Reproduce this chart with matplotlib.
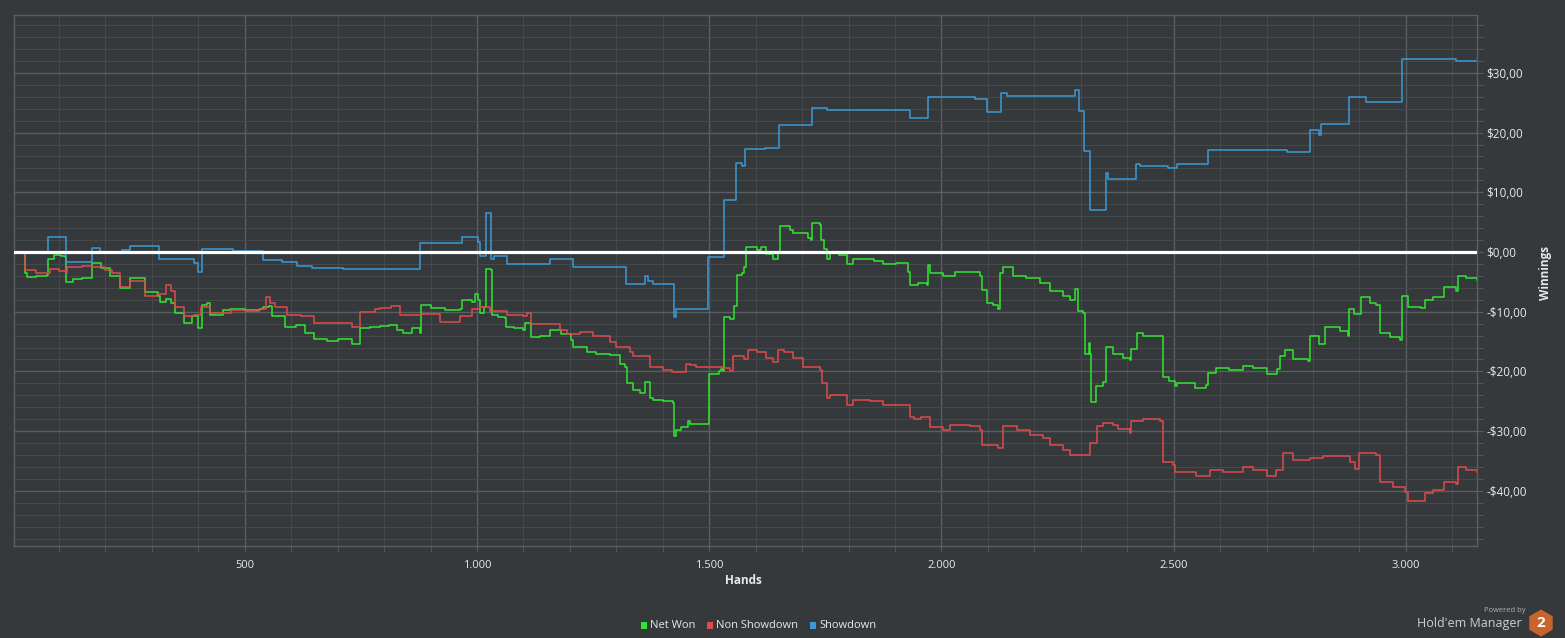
import matplotlib
matplotlib.use("Agg")
import matplotlib.pyplot as plt
from matplotlib.patches import RegularPolygon, Rectangle
from matplotlib.ticker import MultipleLocator, FuncFormatter
from matplotlib.transforms import IdentityTransform

# cumulative winnings (hand, dollars)
net_hands = [0, 20, 27, 32, 50, 74, 76, 90, 105, 112, 115, 130, 150, 170, 172, 190, 210, 231, 253, 282,
             285, 314, 318, 330, 340, 350, 368, 382, 386, 400, 407, 418, 425, 454, 468, 500, 533, 540, 552, 558,
             587, 610, 630, 648, 676, 700, 730, 748, 770, 791, 810, 827, 840, 860, 877, 879, 900, 930, 963, 967,
             990, 995, 1003, 1006, 1014, 1019, 1031, 1033, 1045, 1060, 1062, 1080, 1100, 1103, 1117, 1135, 1150,
             1157, 1180, 1203, 1207, 1236, 1257, 1286, 1307, 1318, 1322, 1336, 1350, 1361, 1372, 1379, 1400, 1421,
             1424, 1429, 1440, 1454, 1458, 1499, 1520, 1525, 1530, 1532, 1545, 1553, 1559, 1570, 1575, 1580, 1602,
             1612, 1623, 1638, 1648, 1652, 1673, 1680, 1713, 1720, 1722, 1738, 1740, 1748, 1753, 1760, 1780, 1796,
             1810, 1838, 1855, 1875, 1903, 1928, 1933, 1950, 1968, 1970, 1975, 2004, 2030, 2060, 2083, 2088, 2098,
             2110, 2122, 2127, 2133, 2155, 2183, 2212, 2233, 2262, 2276, 2287, 2294, 2305, 2308, 2317, 2319, 2321,
             2330, 2332, 2348, 2354, 2370, 2390, 2405, 2409, 2420, 2434, 2470, 2476, 2490, 2502, 2506, 2535, 2545,
             2570, 2574, 2592, 2620, 2649, 2670, 2700, 2722, 2728, 2739, 2757, 2789, 2793, 2813, 2825, 2857, 2875,
             2877, 2889, 2904, 2922, 2936, 2944, 2965, 2987, 2992, 3004, 3033, 3040, 3058, 3080, 3083, 3108, 3112,
             3130, 3153]
net_won = [0, -0.2, -3.5, -4.2, -4.1, -3.8, -1.1, -0.5, -0.7, -0.9, -5.1, -4.6, -4.3, -4.1, -1.9, -2.6, -4.1,
           -6.1, -4.4, -4.4, -6.7, -7.3, -8.4, -7.8, -8.6, -10.3, -11.9, -11.9, -10.8, -12.8, -8.9, -8.6, -10.6,
           -9.7, -9.5, -9.7, -9.6, -9.2, -9.0, -10.8, -12.5, -12.2, -13.6, -14.6, -14.9, -14.5, -15.4, -12.8,
           -12.5, -12.4, -12.2, -13.1, -13.5, -12.8, -13.5, -8.9, -9.4, -9.8, -9.6, -8.0, -8.3, -7.0, -8.0, -10.2,
           -9.2, -2.8, -3.0, -10.6, -10.9, -11.0, -12.5, -12.8, -13.0, -11.9, -14.3, -14.0, -14.1, -13.1, -13.7,
           -14.7, -15.9, -16.7, -17.1, -17.2, -18.7, -19.2, -22.0, -23.1, -23.7, -21.7, -24.5, -24.8, -25.0,
           -25.3, -30.9, -29.8, -29.3, -28.3, -28.8, -20.4, -20.0, -19.6, -20.0, -10.9, -11.3, -9.1, -3.8, -3.6,
           -2.5, 0.9, 0.4, 0.8, -0.3, -1.1, 0.0, 4.35, 3.7, 3.2, 2.3, 2.0, 4.8, 4.6, 2.0, 0.5, -1.1, -0.2, -0.5,
           -2.0, -1.1, -1.1, -1.5, -2.0, -1.9, -3.3, -5.5, -5.2, -5.5, -2.2, -3.6, -4.0, -3.3, -3.3, -4.1, -6.4,
           -8.5, -8.8, -9.6, -3.6, -2.5, -4.1, -4.4, -5.2, -6.6, -7.4, -8.0, -6.2, -9.9, -10.2, -17.1, -15.2,
           -17.1, -25.1, -25.1, -22.5, -21.7, -15.9, -17.1, -17.8, -18.1, -16.3, -13.6, -14.0, -14.0, -20.9,
           -21.6, -22.5, -22.0, -22.0, -22.8, -22.2, -20.2, -19.5, -19.8, -19.1, -19.5, -20.4, -19.6, -17.5,
           -16.5, -17.9, -18.2, -14.0, -15.4, -12.6, -13.3, -14.0, -9.6, -10.4, -7.6, -8.6, -8.8, -13.5, -14.2,
           -14.8, -7.4, -9.2, -9.4, -8.0, -7.6, -7.5, -5.9, -6.5, -4.0, -4.4, -4.7]

nsd_hands = [0, 20, 27, 50, 74, 80, 100, 115, 117, 150, 170, 200, 215, 231, 253, 282, 285, 310, 330, 340, 350,
             368, 390, 405, 425, 470, 500, 530, 546, 555, 565, 590, 620, 650, 700, 730, 748, 780, 791, 815, 834,
             880, 920, 963, 990, 1006, 1028, 1064, 1100, 1107, 1117, 1150, 1178, 1193, 1222, 1250, 1286, 1300,
             1329, 1336, 1358, 1372, 1401, 1420, 1450, 1458, 1472, 1530, 1545, 1552, 1575, 1584, 1602, 1623, 1638,
             1649, 1660, 1680, 1702, 1738, 1742, 1753, 1760, 1780, 1796, 1810, 1846, 1875, 1903, 1932, 1940, 1955,
             1975, 2004, 2018, 2061, 2083, 2088, 2122, 2133, 2162, 2190, 2219, 2233, 2262, 2276, 2318, 2320, 2334,
             2348, 2370, 2380, 2405, 2409, 2434, 2470, 2477, 2498, 2502, 2535, 2549, 2578, 2606, 2649, 2670, 2700,
             2721, 2735, 2757, 2793, 2822, 2857, 2879, 2890, 2900, 2936, 2944, 2972, 2997, 3004, 3033, 3040, 3058,
             3080, 3083, 3108, 3112, 3130, 3153]
non_showdown = [0, -0.2, -3.0, -3.5, -3.5, -2.8, -3.2, -3.5, -2.5, -2.3, -2.5, -3.0, -3.5, -5.8, -4.9, -4.9,
                -7.3, -7.0, -5.5, -6.5, -9.2, -10.8, -10.5, -9.2, -10.2, -9.8, -9.9, -9.5, -7.6, -8.5, -9.2,
                -10.6, -10.8, -11.9, -11.9, -12.5, -10.0, -9.5, -9.3, -9.1, -10.6, -10.4, -11.7, -10.8, -9.6,
                -9.2, -9.9, -10.6, -10.8, -10.2, -12.1, -12.0, -13.1, -13.8, -13.4, -14.1, -15.0, -15.9, -16.7,
                -17.5, -17.5, -19.2, -19.8, -20.1, -18.8, -19.0, -19.3, -19.5, -19.9, -17.5, -17.9, -16.5, -16.7,
                -17.8, -18.4, -16.5, -16.7, -17.7, -19.2, -19.8, -22.0, -24.5, -24.0, -24.0, -25.6, -24.8, -24.9,
                -25.6, -25.6, -27.6, -27.9, -27.7, -29.3, -29.8, -28.9, -29.2, -29.8, -32.3, -32.9, -29.2, -29.8,
                -30.7, -31.2, -32.3, -33.2, -34.0, -34.0, -32.0, -29.2, -28.7, -29.0, -29.6, -30.3, -28.3, -28.0,
                -28.3, -35.1, -35.6, -36.8, -36.8, -37.5, -36.5, -36.8, -36.0, -36.5, -37.5, -36.5, -33.6, -34.8,
                -34.5, -34.2, -34.2, -35.2, -36.3, -33.6, -34.0, -38.5, -39.3, -40.2, -41.7, -41.7, -40.4, -39.9,
                -39.9, -38.5, -38.8, -36.0, -36.5, -36.8]

sd_hands = [0, 77, 115, 172, 188, 235, 253, 316, 390, 400, 407, 475, 540, 580, 612, 644, 712, 877, 967, 1003,
            1006, 1019, 1031, 1036, 1064, 1157, 1206, 1320, 1361, 1368, 1379, 1424, 1429, 1498, 1532, 1557, 1570,
            1577, 1620, 1651, 1722, 1753, 1932, 1970, 2072, 2098, 2129, 2140, 2287, 2296, 2307, 2319, 2354, 2359,
            2418, 2427, 2488, 2506, 2573, 2743, 2793, 2813, 2818, 2877, 2913, 2992, 3108, 3153]
showdown = [0, 2.46, -1.7, 0.6, -0.1, 0.3, 1.0, -1.1, -1.9, -3.3, 0.5, 0.2, -1.3, -1.7, -2.4, -2.7, -2.8, 1.45,
            2.45, 1.7, -0.7, 6.5, -1.1, -0.7, -2.0, -1.1, -2.5, -5.4, -4.1, -4.8, -5.4, -10.9, -9.6, -0.9, 8.7,
            14.9, 14.4, 17.2, 17.5, 21.3, 24.1, 23.8, 22.5, 25.9, 25.6, 23.4, 26.7, 26.2, 27.1, 23.7, 16.9, 7.0,
            13.2, 12.2, 14.7, 14.4, 14.0, 14.8, 17.1, 16.8, 20.5, 19.6, 21.4, 25.9, 25.2, 32.3, 32.0, 32.0]

series_names = ["Net Won", "Non Showdown", "Showdown"]
series_colors = ["#2fe62f", "#e04a4c", "#3b9ad8"]

BG = "#36393c"
MAJOR = "#5a5d61"
MINOR = "#46494c"
TXT = "#e8e8e8"

W, H = 1565, 638
fig = plt.figure(figsize=(W / 100, H / 100), dpi=100, facecolor=BG)
ax = fig.add_axes([14 / W, (H - 546) / H, (1477 - 14) / W, (546 - 15) / H], facecolor=BG)

for hs, vs, c in zip([net_hands, nsd_hands, sd_hands], [net_won, non_showdown, showdown], series_colors):
    ax.step(hs, vs, where="post", color=c, lw=1.1, zorder=2)

ax.axhline(0, color="white", lw=2.3, zorder=3)

ax.set_xlim(3, 3153)
ax.set_ylim(-49.25, 39.7)

ax.xaxis.set_major_locator(MultipleLocator(500))
ax.xaxis.set_minor_locator(MultipleLocator(100))
ax.yaxis.set_major_locator(MultipleLocator(10))
ax.yaxis.set_minor_locator(MultipleLocator(2))
ax.grid(which="major", color=MAJOR, lw=1.0, zorder=0)
ax.grid(which="minor", color=MINOR, lw=0.8, zorder=0)
ax.set_axisbelow(True)


def fmt_money(v, pos):
    s = f"${abs(v):.2f}".replace(".", ",")
    return "-" + s if v < 0 else s


def fmt_hands(v, pos):
    return f"{int(v):,}".replace(",", ".")


ax.yaxis.set_major_formatter(FuncFormatter(fmt_money))
ax.xaxis.set_major_formatter(FuncFormatter(fmt_hands))
ax.yaxis.tick_right()
ax.tick_params(axis="y", which="both", length=4, color=MAJOR, labelcolor=TXT, labelsize=8.5, pad=3)
ax.tick_params(axis="x", which="both", length=4, color=MAJOR, labelcolor=TXT, labelsize=8, pad=6)
for lab in ax.get_xticklabels() + ax.get_yticklabels():
    lab.set_family("Open Sans")

for sp in ax.spines.values():
    sp.set_color(MAJOR)
    sp.set_linewidth(1.0)

fig.text(1545 / W, 1 - 273 / H, "Winnings", rotation=90, color=TXT, fontsize=8.5,
         fontweight="bold", ha="center", va="center", family="Open Sans")
fig.text(743 / W, 1 - 581 / H, "Hands", color=TXT, fontsize=8.5, fontweight="bold",
         ha="center", va="center", family="Open Sans")

# legend along the bottom
leg_x = [641, 707, 810]
for x0, name, c in zip(leg_x, series_names, series_colors):
    fig.patches.append(Rectangle((x0 / W, 1 - 629 / H), 6 / W, 7 / H, transform=fig.transFigure,
                                 facecolor=c, edgecolor="none"))
    fig.text((x0 + 9) / W, 1 - 625 / H, name, color=TXT, fontsize=8, ha="left", va="center",
             family="Open Sans")

# branding
fig.text(1526 / W, 1 - 611 / H, "Powered by", color="#b0b0b0", fontsize=5.5, ha="right",
         va="center", family="Open Sans")
fig.text(1522 / W, 1 - 623 / H, "Hold'em Manager", color="#cfcfcf", fontsize=9, ha="right",
         va="center", family="Open Sans")
fig.patches.append(RegularPolygon((1541, H - 623), numVertices=6, radius=13.5, orientation=0,
                                  transform=IdentityTransform(), facecolor="#c9652c", edgecolor="none"))
fig.text(1541 / W, 1 - 623 / H, "2", color="white", fontsize=11, fontweight="bold",
         ha="center", va="center", family="Open Sans")

fig.savefig("out.png", dpi=100, facecolor=BG)
